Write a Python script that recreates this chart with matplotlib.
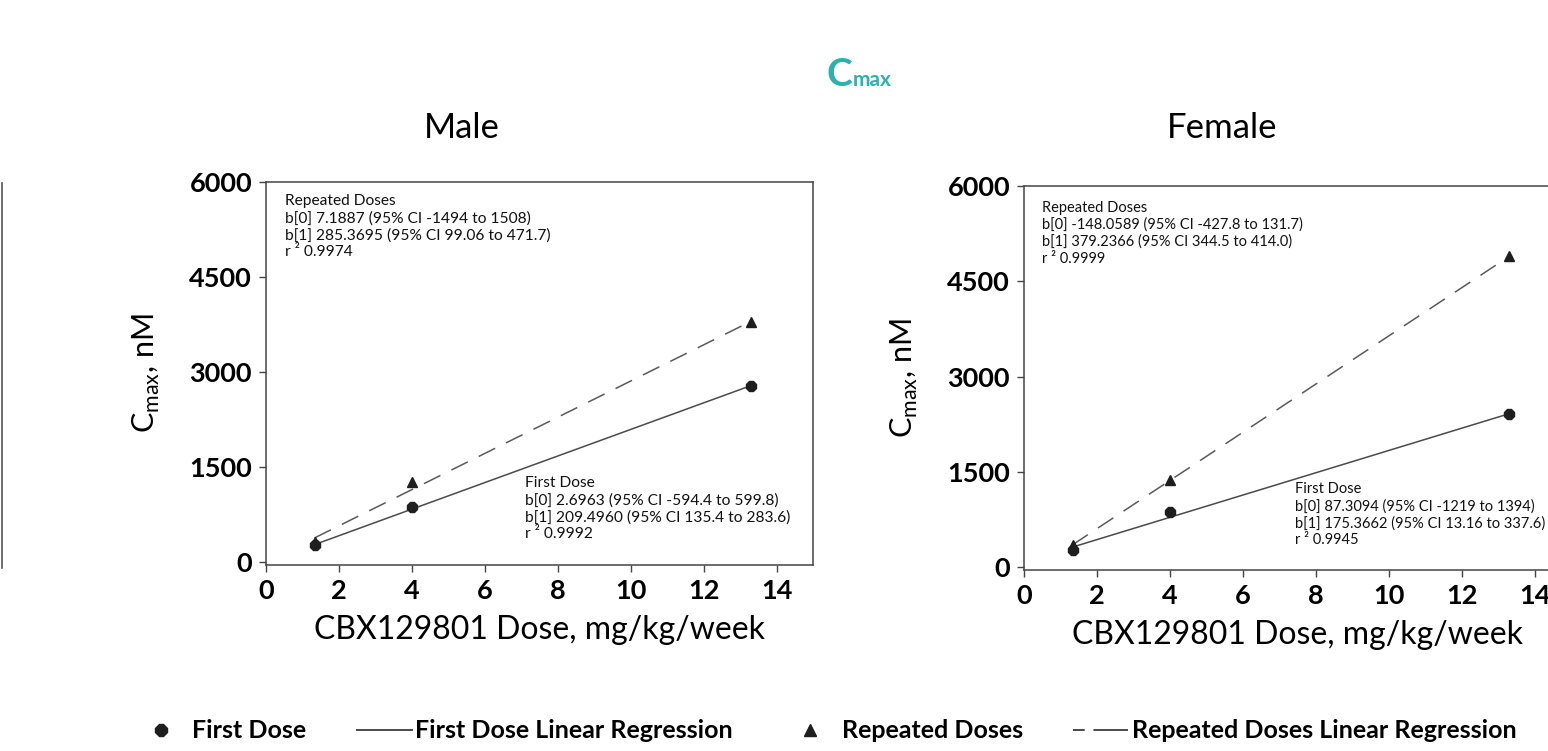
import matplotlib.pyplot as plt
from matplotlib.lines import Line2D
import numpy as np

plt.rcParams['font.family'] = ['Lato', 'DejaVu Sans']

# doses (mg/kg/week) and Cmax (nM)
doses = [1.33, 4.0, 13.3]
male_first = [270, 880, 2790]
male_repeat = [330, 1270, 3800]
female_first = [270, 880, 2410]
female_repeat = [360, 1370, 4900]

# regression coefficients: (b0, b1)
male_first_fit = (2.6963, 209.4960)
male_repeat_fit = (7.1887, 285.3695)
female_first_fit = (87.3094, 175.3662)
female_repeat_fit = (-148.0589, 379.2366)

male_repeat_txt = ["Repeated Doses",
                   "b[0] 7.1887 (95% CI -1494 to 1508)",
                   "b[1] 285.3695 (95% CI 99.06 to 471.7)",
                   "r \u00b2 0.9974"]
male_first_txt = ["First Dose",
                  "b[0] 2.6963 (95% CI -594.4 to 599.8)",
                  "b[1] 209.4960 (95% CI 135.4 to 283.6)",
                  "r \u00b2 0.9992"]
female_repeat_txt = ["Repeated Doses",
                     "b[0] -148.0589 (95% CI -427.8 to 131.7)",
                     "b[1] 379.2366 (95% CI 344.5 to 414.0)",
                     "r \u00b2 0.9999"]
female_first_txt = ["First Dose",
                    "b[0] 87.3094 (95% CI -1219 to 1394)",
                    "b[1] 175.3662 (95% CI 13.16 to 337.6)",
                    "r \u00b2 0.9945"]

xticks = [0, 2, 4, 6, 8, 10, 12, 14]
yticks = [0, 1500, 3000, 4500, 6000]

W, H = 1548, 751
fig = plt.figure(figsize=(W / 100, H / 100), dpi=100)

INK = '#1e1e1e'
LINE = '#4a4a4a'


def panel(rect, first, repeat, ffit, rfit, rtxt, ftxt, rpos, fpos, note_size):
    ax = fig.add_axes(rect)
    x = np.array(doses)
    ax.plot(x, ffit[0] + ffit[1] * x, color=LINE, lw=1.1, zorder=2)
    ax.plot(x, rfit[0] + rfit[1] * x, color='#5a5a5a', lw=1.1,
            dashes=(12, 8), zorder=2)
    ax.plot(doses, first, ls='none', marker='8', ms=7.5, color=INK, zorder=3)
    ax.plot(doses, repeat, ls='none', marker='^', ms=7.5, color=INK, zorder=3)
    ax.set_xlim(0, 15)
    ax.set_ylim(-40, 6000)
    ax.set_xticks(xticks)
    ax.set_yticks(yticks)
    ax.tick_params(direction='out', length=5, width=1, color='#444444',
                   labelsize=19.5, pad=5)
    for lab in ax.get_xticklabels() + ax.get_yticklabels():
        lab.set_fontweight('bold')
    for s in ax.spines.values():
        s.set_color('#444444')
        s.set_linewidth(1.1)
    ax.set_xlabel('CBX129801 Dose, mg/kg/week', fontsize=23, labelpad=9)
    ax.set_ylabel(r'C$_{\mathregular{max}}$, nM', fontsize=22, labelpad=20)
    ax.text(rpos[0], rpos[1], '\n'.join(rtxt), transform=ax.transAxes,
            fontsize=note_size, va='top', ha='left', linespacing=1.25,
            color='#111111')
    ax.text(fpos[0], fpos[1], '\n'.join(ftxt), transform=ax.transAxes,
            fontsize=note_size, va='top', ha='left', linespacing=1.25,
            color='#111111')
    return ax


male = panel([266 / W, 186 / H, 547 / W, 383 / H],
             male_first, male_repeat, male_first_fit, male_repeat_fit,
             male_repeat_txt, male_first_txt, (0.035, 0.968), (0.473, 0.232),
             11.2)
female = panel([1024 / W, 181 / H, 547.5 / W, 384 / H],
               female_first, female_repeat, female_first_fit, female_repeat_fit,
               female_repeat_txt, female_first_txt, (0.033, 0.962), (0.495, 0.229),
               10.5)

# panel headings
fig.text(462 / W, (H - 128) / H, 'Male', fontsize=25,
         ha='center', va='center')
fig.text(1222 / W, (H - 128) / H, 'Female', fontsize=25,
         ha='center', va='center')

# thin frame edge on the far left
fig.add_artist(Line2D([2 / W, 2 / W], [(H - 568) / H, (H - 183) / H],
                      color='#555555', lw=1.2))

# overall heading
fig.text(852 / W, (H - 86) / H, 'C', color='#2ab2ae', fontsize=28,
         fontweight='bold', ha='right', va='baseline')
fig.text(853 / W, (H - 86) / H, 'max', color='#2ab2ae', fontsize=15,
         fontweight='bold', ha='left', va='baseline')

handles = [
    Line2D([], [], ls='none', marker='8', ms=9, color=INK),
    Line2D([], [], color=LINE, lw=1.4),
    Line2D([], [], ls='none', marker='^', ms=9, color=INK),
    Line2D([], [], color=LINE, lw=1.4, dashes=(6, 4.5, 22, 4.5)),
]
labels = ['First Dose', 'First Dose Linear Regression',
          'Repeated Doses', 'Repeated Doses Linear Regression']
fig.legend(handles, labels, loc='center', ncol=4, frameon=False,
           bbox_to_anchor=(825 / W, (H - 731) / H),
           prop={'size': 18, 'weight': 'bold'},
           handlelength=2.2, handletextpad=0.15, columnspacing=2.0)

fig.savefig('out.png', dpi=100)
